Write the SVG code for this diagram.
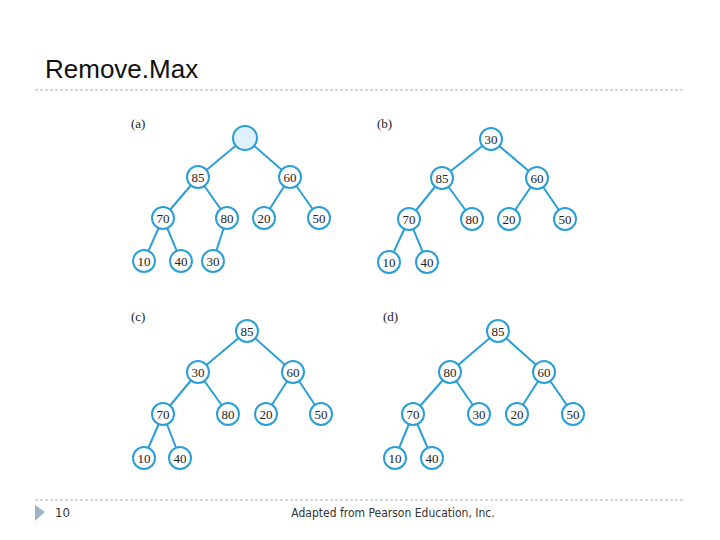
<svg xmlns="http://www.w3.org/2000/svg" width="720" height="540" viewBox="0 0 720 540">
<style>
.e{stroke:#2a9fd6;stroke-width:2}
.n circle{fill:#fff;stroke:#2a9fd6;stroke-width:2}
.n text{font-family:"Liberation Serif",serif;font-size:13px;text-anchor:middle;fill:#222}
.lbl{font-family:"Liberation Serif",serif;font-size:13px;fill:#222}
.sep{stroke:#aab2bb;stroke-width:1;stroke-dasharray:3 2}
</style>
<rect width="720" height="540" fill="#fff"/>
<text x="45" y="78" font-family="Liberation Sans,sans-serif" font-size="26" fill="#111">Remove.Max</text>
<line class="sep" x1="35" y1="90" x2="685" y2="90"/>
<line class="sep" x1="35" y1="500" x2="685" y2="500"/>
<polygon points="35,505 45,512 35,521" fill="#9fb3c8"/>
<text x="55" y="517" font-family="DejaVu Sans Condensed,DejaVu Sans,sans-serif" font-size="13" fill="#333">10</text>
<text x="393" y="517" text-anchor="middle" font-family="DejaVu Sans Condensed,DejaVu Sans,sans-serif" font-size="12" fill="#333">Adapted from Pearson Education, Inc.</text>
<text class="lbl" x="131" y="128">(a)</text>
<text class="lbl" x="377" y="128">(b)</text>
<text class="lbl" x="131" y="321">(c)</text>
<text class="lbl" x="383" y="321">(d)</text>
<g id="connectors">
<line class="e" x1="245" y1="138" x2="198" y2="177"/><line class="e" x1="245" y1="138" x2="290" y2="177"/>
<line class="e" x1="198" y1="177" x2="163" y2="218"/><line class="e" x1="198" y1="177" x2="227" y2="218"/>
<line class="e" x1="290" y1="177" x2="264" y2="218"/><line class="e" x1="290" y1="177" x2="319" y2="218"/>
<line class="e" x1="163" y1="218" x2="144" y2="261"/><line class="e" x1="163" y1="218" x2="181" y2="261"/>
<line class="e" x1="227" y1="218" x2="213" y2="261"/>
<line class="e" x1="491" y1="139" x2="442" y2="178"/><line class="e" x1="491" y1="139" x2="537" y2="178"/>
<line class="e" x1="442" y1="178" x2="409" y2="219"/><line class="e" x1="442" y1="178" x2="472" y2="219"/>
<line class="e" x1="537" y1="178" x2="509" y2="219"/><line class="e" x1="537" y1="178" x2="565" y2="219"/>
<line class="e" x1="409" y1="219" x2="389" y2="262"/><line class="e" x1="409" y1="219" x2="427" y2="262"/>
<line class="e" x1="247" y1="331" x2="198" y2="372"/><line class="e" x1="247" y1="331" x2="293" y2="372"/>
<line class="e" x1="198" y1="372" x2="163" y2="414"/><line class="e" x1="198" y1="372" x2="228" y2="414"/>
<line class="e" x1="293" y1="372" x2="266" y2="414"/><line class="e" x1="293" y1="372" x2="321" y2="414"/>
<line class="e" x1="163" y1="414" x2="144" y2="458"/><line class="e" x1="163" y1="414" x2="180" y2="458"/>
<line class="e" x1="498" y1="331" x2="450" y2="372"/><line class="e" x1="498" y1="331" x2="544" y2="372"/>
<line class="e" x1="450" y1="372" x2="413" y2="414"/><line class="e" x1="450" y1="372" x2="479" y2="414"/>
<line class="e" x1="544" y1="372" x2="517" y2="414"/><line class="e" x1="544" y1="372" x2="573" y2="414"/>
<line class="e" x1="413" y1="414" x2="395" y2="458"/><line class="e" x1="413" y1="414" x2="432" y2="458"/>
</g>
<g id="a-root" class="n"><circle cx="245" cy="138" r="12" style="fill:#dff1fb"/></g>
<g id="a85" class="n"><circle cx="198" cy="177" r="11"/><text x="198" y="182">85</text></g>
<g id="a60" class="n"><circle cx="290" cy="177" r="11"/><text x="290" y="182">60</text></g>
<g id="a70" class="n"><circle cx="163" cy="218" r="11"/><text x="163" y="223">70</text></g>
<g id="a80" class="n"><circle cx="227" cy="218" r="11"/><text x="227" y="223">80</text></g>
<g id="a20" class="n"><circle cx="264" cy="218" r="11"/><text x="264" y="223">20</text></g>
<g id="a50" class="n"><circle cx="319" cy="218" r="11"/><text x="319" y="223">50</text></g>
<g id="a10" class="n"><circle cx="144" cy="261" r="11"/><text x="144" y="266">10</text></g>
<g id="a40" class="n"><circle cx="181" cy="261" r="11"/><text x="181" y="266">40</text></g>
<g id="a30" class="n"><circle cx="213" cy="261" r="11"/><text x="213" y="266">30</text></g>
<g id="b30" class="n"><circle cx="491" cy="139" r="11"/><text x="491" y="144">30</text></g>
<g id="b85" class="n"><circle cx="442" cy="178" r="11"/><text x="442" y="183">85</text></g>
<g id="b60" class="n"><circle cx="537" cy="178" r="11"/><text x="537" y="183">60</text></g>
<g id="b70" class="n"><circle cx="409" cy="219" r="11"/><text x="409" y="224">70</text></g>
<g id="b80" class="n"><circle cx="472" cy="219" r="11"/><text x="472" y="224">80</text></g>
<g id="b20" class="n"><circle cx="509" cy="219" r="11"/><text x="509" y="224">20</text></g>
<g id="b50" class="n"><circle cx="565" cy="219" r="11"/><text x="565" y="224">50</text></g>
<g id="b10" class="n"><circle cx="389" cy="262" r="11"/><text x="389" y="267">10</text></g>
<g id="b40" class="n"><circle cx="427" cy="262" r="11"/><text x="427" y="267">40</text></g>
<g id="c85" class="n"><circle cx="247" cy="331" r="11"/><text x="247" y="336">85</text></g>
<g id="c30" class="n"><circle cx="198" cy="372" r="11"/><text x="198" y="377">30</text></g>
<g id="c60" class="n"><circle cx="293" cy="372" r="11"/><text x="293" y="377">60</text></g>
<g id="c70" class="n"><circle cx="163" cy="414" r="11"/><text x="163" y="419">70</text></g>
<g id="c80" class="n"><circle cx="228" cy="414" r="11"/><text x="228" y="419">80</text></g>
<g id="c20" class="n"><circle cx="266" cy="414" r="11"/><text x="266" y="419">20</text></g>
<g id="c50" class="n"><circle cx="321" cy="414" r="11"/><text x="321" y="419">50</text></g>
<g id="c10" class="n"><circle cx="144" cy="458" r="11"/><text x="144" y="463">10</text></g>
<g id="c40" class="n"><circle cx="180" cy="458" r="11"/><text x="180" y="463">40</text></g>
<g id="d85" class="n"><circle cx="498" cy="331" r="11"/><text x="498" y="336">85</text></g>
<g id="d80" class="n"><circle cx="450" cy="372" r="11"/><text x="450" y="377">80</text></g>
<g id="d60" class="n"><circle cx="544" cy="372" r="11"/><text x="544" y="377">60</text></g>
<g id="d70" class="n"><circle cx="413" cy="414" r="11"/><text x="413" y="419">70</text></g>
<g id="d30" class="n"><circle cx="479" cy="414" r="11"/><text x="479" y="419">30</text></g>
<g id="d20" class="n"><circle cx="517" cy="414" r="11"/><text x="517" y="419">20</text></g>
<g id="d50" class="n"><circle cx="573" cy="414" r="11"/><text x="573" y="419">50</text></g>
<g id="d10" class="n"><circle cx="395" cy="458" r="11"/><text x="395" y="463">10</text></g>
<g id="d40" class="n"><circle cx="432" cy="458" r="11"/><text x="432" y="463">40</text></g>
</svg>
